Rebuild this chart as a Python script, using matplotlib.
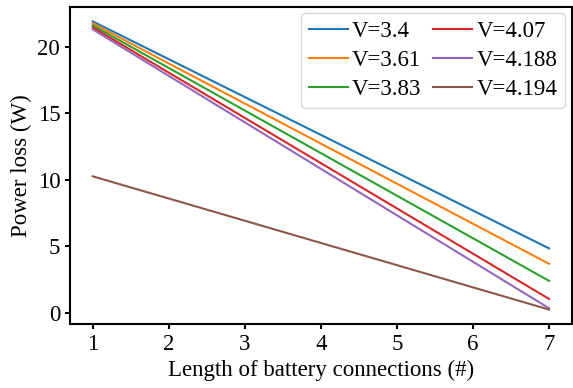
import matplotlib
matplotlib.use("Agg")
import matplotlib.pyplot as plt

plt.rcParams["font.family"] = ["Liberation Serif", "DejaVu Serif"]
plt.rcParams["font.size"] = 16.5

# ── Data (straight lines, endpoints) ──
length = [1, 7]
voltages = ["3.4", "3.61", "3.83", "4.07", "4.188", "4.194"]
loss_34 = [21.9, 4.83]
loss_361 = [21.75, 3.67]
loss_383 = [21.6, 2.39]
loss_407 = [21.45, 1.03]
loss_4188 = [21.3, 0.33]
loss_4194 = [10.25, 0.23]
series = [loss_34, loss_361, loss_383, loss_407, loss_4188, loss_4194]

fig, ax = plt.subplots(figsize=(5.73, 3.88), dpi=100)
fig.subplots_adjust(left=0.122, right=0.998, bottom=0.165, top=0.982)

for v, y in zip(voltages, series):
    ax.plot(length, y, label=f"V={v}")

ax.set_xlabel("Length of battery connections (#)")
ax.set_ylabel("Power loss (W)")
ax.set_xticks(range(1, 8))
ax.legend(ncol=2, loc="upper right", handlelength=1.7, columnspacing=0.5,
          handletextpad=0.2, borderaxespad=0.28, labelspacing=0.33,
          borderpad=0.35)

for s in ax.spines.values():
    s.set_linewidth(1.5)
ax.tick_params(width=1.5)

plt.savefig("out.png", dpi=100)
